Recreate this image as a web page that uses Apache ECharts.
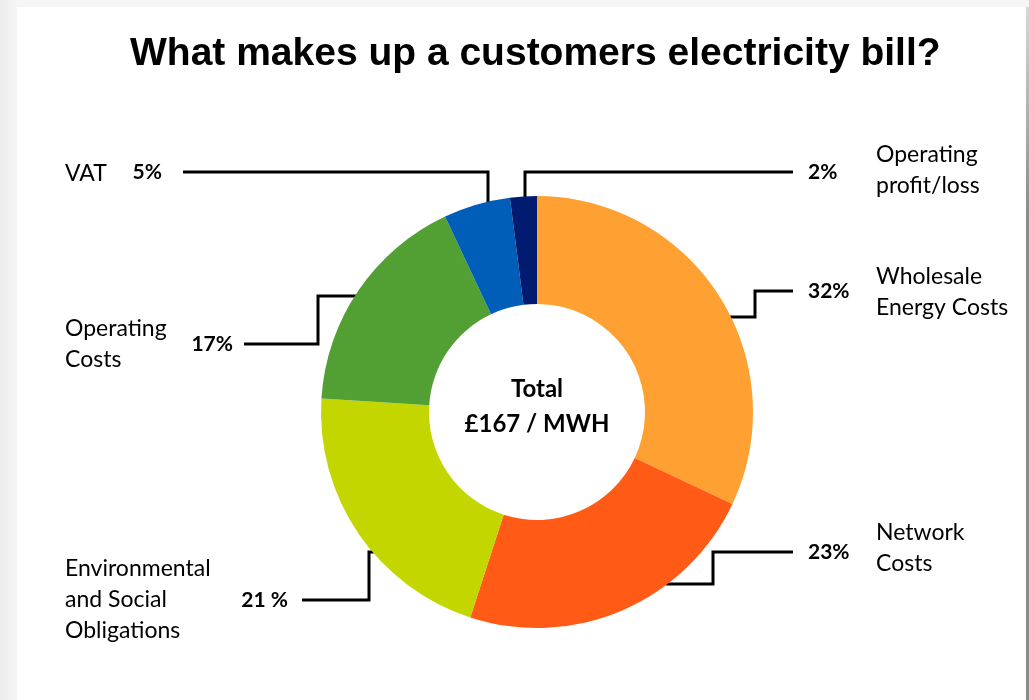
<!DOCTYPE html>
<html>
<head>
<meta charset="utf-8">
<title>What makes up a customers electricity bill?</title>
<script src="https://cdn.jsdelivr.net/npm/echarts@6/dist/echarts.min.js"></script>
<style>
    html, body { margin: 0; padding: 0; }
    body { width: 1029px; height: 700px; position: relative; overflow: hidden;
           background: linear-gradient(to right, #ececec 0px, #f6f6f6 16px, #f6f6f6 100%); }
    #card { position: absolute; left: 17px; top: 7px; width: 1009px; height: 693px; background: #fff; }
    #edge { position: absolute; left: 1026px; top: 7px; width: 3px; height: 693px;
            background: linear-gradient(to bottom, #d8d8d8, #8a8a8a 30%, #8a8a8a); }
    #main { position: absolute; left: 0; top: 0; width: 1029px; height: 700px; }
</style>
</head>
<body>
<div id="card"></div>
<div id="edge"></div>
<div id="main"></div>
<script>
/** 分类名称(顺时针, 从12点开始) */
var categories = ['Wholesale\nEnergy Costs', 'Network\nCosts', 'Environmental\nand Social\nObligations',
                  'Operating\nCosts', 'VAT', 'Operating\nprofit/loss'];
/** 占比(%) */
var shares = [32, 23, 21, 17, 5, 2];
/** 百分比标签文字 */
var shareLabels = ['32%', '23%', '21 %', '17%', '5%', '2%'];
/** 颜色 */
var colors = ['#FFA033', '#FF5B17', '#C4D600', '#52A033', '#005EB8', '#001B70'];

var centerText = 'Total\n£167 / MWH';
var titleText = 'What makes up a customers electricity bill?';

// 饼图几何
var cx = 537, cy = 412, R = 216, r = 108;

/**
 * 引导线折点布局: side=标签在左/右, y1=贴饼边的水平线y, xm=折点x, y2=标签行y, xe=线末端x
 * top=true 时为从顶部竖直引出(xm为竖线x)
 */
var leaderLayout = [
    {side: 'right', y1: 317, xm: 755, y2: 291, xe: 793, px: 808, nx: 876},
    {side: 'right', y1: 584, xm: 713, y2: 552, xe: 793, px: 808, nx: 876},
    {side: 'left',  y1: 552, xm: 369, y2: 600, xe: 302, px: 288, nx: 65},
    {side: 'left',  y1: 296, xm: 318, y2: 344, xe: 244, px: 233, nx: 65},
    {side: 'left',  top: true, xm: 488, y2: 172, xe: 183, px: 162, nx: 65},
    {side: 'right', top: true, xm: 525, y2: 172, xe: 793, px: 808, nx: 876}
];
// 名称标签的垂直中心
var nameY = [292, 548, 600, 344, 174, 170];

/** 饼边上某个 y 对应的 x */
function edgeX(y, side) {
    var dy = y - cy;
    var dx = Math.sqrt((R - 1) * (R - 1) - dy * dy);
    return side == 'left' ? cx - dx : cx + dx;
}
/** 饼顶部某个 x 对应的 y */
function edgeY(x) {
    var dx = x - cx;
    return cy - Math.sqrt((R - 1) * (R - 1) - dx * dx);
}

function leaderPoints(i) {
    var L = leaderLayout[i];
    if (L.top) {
        return [[L.xm, edgeY(L.xm)], [L.xm, L.y2], [L.xe, L.y2]];
    }
    return [[edgeX(L.y1, L.side), L.y1], [L.xm, L.y1], [L.xm, L.y2], [L.xe, L.y2]];
}

var pieData = [];
for (var i = 0; i < categories.length; i++) {
    pieData.push({name: categories[i], value: shares[i], itemStyle: {color: colors[i]}});
}
var nameData = [];
for (var j = 0; j < categories.length; j++) {
    nameData.push({name: categories[j], value: shares[j]});
}

var myChart = echarts.init(document.getElementById('main'));

var option = {
    backgroundColor: 'transparent',
    animation: false,
    title: {
        text: titleText,
        left: 125,
        top: 30,
        textStyle: {
            fontFamily: 'Liberation Sans',
            fontWeight: 'bold',
            fontSize: 39,
            color: '#000'
        }
    },
    graphic: [
        {
            type: 'text',
            x: cx,
            y: cy - 5,
            style: {
                text: centerText,
                align: 'center',
                verticalAlign: 'middle',
                fontFamily: 'Lato',
                fontWeight: 'bold',
                fontSize: 24,
                lineHeight: 35,
                fill: '#000'
            }
        }
    ],
    series: [
        {
            // 饼图 + 百分比标签 + 引导线
            type: 'pie',
            center: [cx, cy],
            radius: [r, R],
            startAngle: 90,
            clockwise: true,
            avoidLabelOverlap: false,
            silent: true,
            data: pieData,
            label: {
                show: true,
                position: 'outside',
                formatter: function (p) { return shareLabels[p.dataIndex]; },
                fontFamily: 'Lato',
                fontWeight: 'bold',
                fontSize: 21,
                color: '#000'
            },
            labelLine: {
                show: true,
                lineStyle: {color: '#000', width: 3}
            },
            labelLayout: function (params) {
                var L = leaderLayout[params.dataIndex];
                return {
                    x: L.px,
                    y: L.y2,
                    align: L.side == 'left' ? 'right' : 'left',
                    verticalAlign: 'middle',
                    labelLinePoints: leaderPoints(params.dataIndex)
                };
            }
        },
        {
            // 只用于名称标签
            type: 'pie',
            center: [cx, cy],
            radius: [r, R],
            startAngle: 90,
            clockwise: true,
            avoidLabelOverlap: false,
            silent: true,
            itemStyle: {color: 'rgba(0,0,0,0)'},
            data: nameData,
            label: {
                show: true,
                position: 'outside',
                formatter: '{b}',
                fontFamily: 'Lato',
                fontSize: 23,
                lineHeight: 31,
                color: '#000',
                align: 'left'
            },
            labelLine: {show: false},
            labelLayout: function (params) {
                var L = leaderLayout[params.dataIndex];
                return {
                    x: L.nx,
                    y: nameY[params.dataIndex],
                    align: 'left',
                    verticalAlign: 'middle'
                };
            }
        }
    ]
};

myChart.setOption(option);
</script>
</body>
</html>
